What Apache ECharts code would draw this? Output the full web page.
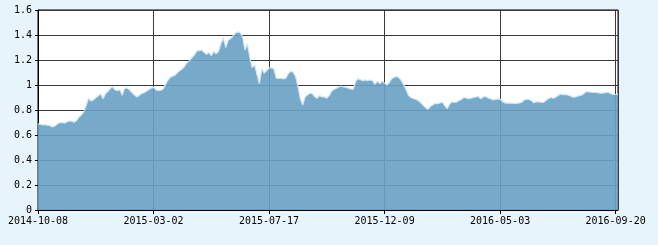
<!DOCTYPE html>
<html>
<head>
<meta charset="utf-8">
<script src="https://cdn.jsdelivr.net/npm/echarts@6/dist/echarts.min.js"></script>
<style>
html,body{margin:0;padding:0;background:#e8f4fc;}
#c{width:658px;height:245px;}
</style>
</head>
<body>
<div id="c"></div>
<script>
// Trading-day index step between consecutive samples
const dayStep = 2;
// Tick labels placed every 96 trading days
const tickLabels = ['2014-10-08','2015-03-02','2015-07-17','2015-12-09','2016-05-03','2016-09-20'];
const tickEvery = 96;
const lastDay = 482;

const navPart1 = [
0.69,0.685,0.68,0.683,0.678,0.675,0.664,0.672,0.688,0.698,
0.70,0.695,0.705,0.713,0.71,0.703,0.715,0.742,0.762,0.785,
0.835,0.895,0.872,0.88,0.898,0.912,0.93,0.89,0.93,0.948,
0.972,0.985,0.962,0.955,0.962,0.918,0.975,0.975,0.962,0.94,
0.922,0.905,0.915,0.932,0.937,0.95,0.962,0.975,0.983,0.962
];
const navPart2 = [
0.955,0.958,0.968,1.005,1.04,1.062,1.07,1.08,1.10,1.115,
1.13,1.152,1.18,1.195,1.22,1.24,1.272,1.275,1.28,1.262,
1.245,1.26,1.235,1.268,1.25,1.27,1.33,1.378,1.30,1.358,
1.37,1.393,1.415,1.425,1.418,1.385,1.28,1.33,1.22,1.14,
1.16,1.085,1.01,1.13,1.095,1.115,1.135,1.138,1.13,1.055
];
const navPart3 = [
1.052,1.055,1.048,1.055,1.09,1.11,1.103,1.07,0.99,0.89,
0.84,0.905,0.92,0.935,0.93,0.905,0.895,0.915,0.905,0.905,
0.895,0.915,0.95,0.965,0.975,0.985,0.99,0.985,0.98,0.975,
0.968,0.965,1.03,1.05,1.042,1.035,1.04,1.035,1.04,1.035,
1.005,1.03,1.012,1.03,1.015,1.00,1.02,1.05,1.062,1.068
];
const navPart4 = [
1.058,1.035,1.0,0.96,0.915,0.9,0.89,0.887,0.875,0.858,
0.84,0.82,0.805,0.828,0.84,0.853,0.85,0.856,0.862,0.835,
0.81,0.845,0.866,0.86,0.865,0.876,0.885,0.90,0.895,0.89,
0.895,0.90,0.905,0.908,0.89,0.905,0.908,0.897,0.89,0.88,
0.885,0.888,0.887,0.868,0.857,0.855,0.855,0.854,0.852,0.855
];
const navPart5 = [
0.856,0.862,0.88,0.887,0.885,0.875,0.858,0.865,0.865,0.862,
0.86,0.875,0.89,0.90,0.895,0.90,0.915,0.927,0.923,0.925,
0.92,0.915,0.905,0.902,0.91,0.915,0.92,0.935,0.948,0.945,
0.942,0.94,0.94,0.936,0.935,0.937,0.94,0.942,0.93,0.925,
0.924,0.925
];

const nav = navPart1.concat(navPart2, navPart3, navPart4, navPart5);
const seriesData = nav.map((v, i) => [i * dayStep, v]);

const chart = echarts.init(document.getElementById('c'), null, {renderer:'canvas'});
const labelFont = {fontFamily:'DejaVu Sans Mono', fontSize:10, color:'#000'};
chart.setOption({
  backgroundColor:'#e8f4fc',
  animation:false,
  grid:{left:38, top:10, right:40, bottom:35, show:true, backgroundColor:'#ffffff', borderColor:'#000', borderWidth:1},
  xAxis:{
    type:'value', min:0, max:lastDay, interval:tickEvery,
    axisLine:{show:true, onZero:false, lineStyle:{color:'#000', width:1}},
    axisTick:{show:true, length:4, lineStyle:{color:'#000'}},
    axisLabel:Object.assign({margin:6, showMaxLabel:false, formatter:v => tickLabels[Math.round(v / tickEvery)] || ''}, labelFont),
    splitLine:{show:true, lineStyle:{color:'#3a3a3a', width:1}}
  },
  yAxis:{
    type:'value', min:0, max:1.6, interval:0.2,
    axisLine:{show:true, lineStyle:{color:'#000', width:1}},
    axisTick:{show:true, length:3, lineStyle:{color:'#000'}},
    axisLabel:Object.assign({margin:6}, labelFont),
    splitLine:{show:true, lineStyle:{color:'#3a3a3a', width:1}}
  },
  series:[{
    type:'line', data:seriesData, showSymbol:false, symbol:'none',
    lineStyle:{color:'#cfe7f6', width:1.2},
    areaStyle:{color:'rgba(105,162,194,0.91)', opacity:1, origin:'start'}
  }]
});
</script>
</body>
</html>
